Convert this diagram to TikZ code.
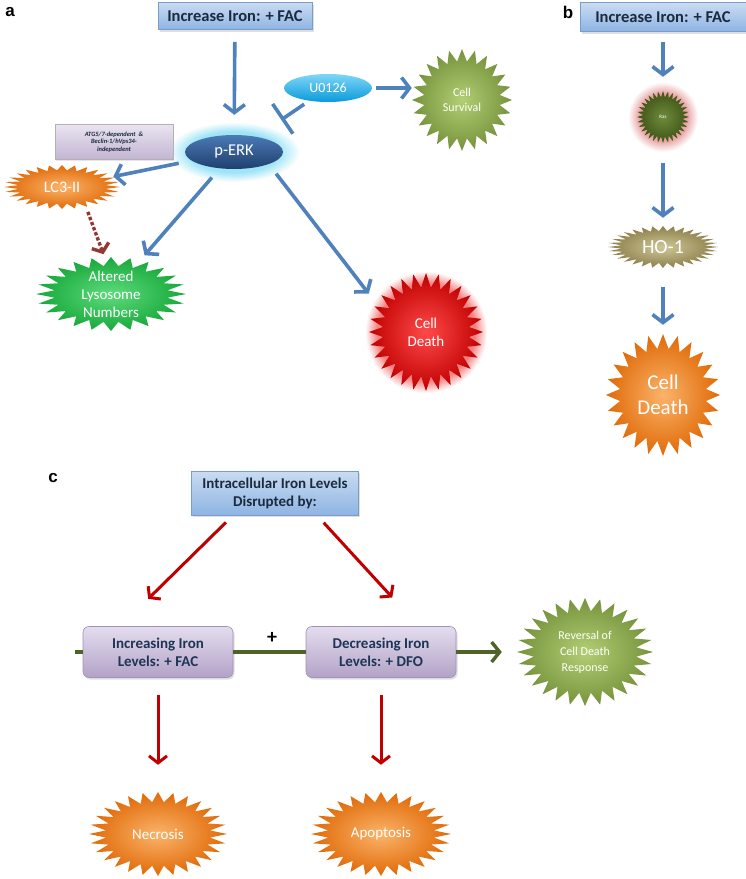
\documentclass[tikz,border=0pt]{standalone}
\usepackage{fontspec}
\setmainfont{Carlito}
\newfontfamily\panelfont{Liberation Sans}
\usetikzlibrary{arrows.meta, shapes.geometric, shadows, calc}

\definecolor{arrblue}{HTML}{4F81BD}
\definecolor{arrred}{HTML}{C00000}
\definecolor{dotred}{HTML}{953735}
\definecolor{linegreen}{HTML}{4F6228}
\definecolor{boxtop}{HTML}{C9DCF2}
\definecolor{boxbot}{HTML}{8EB4E3}
\definecolor{boxedge}{HTML}{7A9CC8}
\definecolor{liltop}{HTML}{E4DDEE}
\definecolor{lilbot}{HTML}{B3A2C7}
\definecolor{liledge}{HTML}{A091B8}
\definecolor{navytext}{HTML}{1F3556}
\definecolor{boxtext}{HTML}{1B2A3D}
\definecolor{erktop}{HTML}{4A7AB5}
\definecolor{erkbot}{HTML}{1F3F6E}
\definecolor{utop}{HTML}{7FD6F7}
\definecolor{ubot}{HTML}{0A9ADA}
\definecolor{orangein}{HTML}{FBB36A}
\definecolor{orangeout}{HTML}{E06A08}
\definecolor{greenin}{HTML}{5EDB7C}
\definecolor{greenout}{HTML}{17A83A}
\definecolor{olivein}{HTML}{B3CF74}
\definecolor{oliveout}{HTML}{76923C}
\definecolor{redin}{HTML}{FF4A4A}
\definecolor{redout}{HTML}{C00000}
\definecolor{tanin}{HTML}{CFC698}
\definecolor{tanout}{HTML}{8C7F4A}
\definecolor{rasin}{HTML}{6F8B3B}
\definecolor{rasout}{HTML}{3D5316}
\definecolor{pinkglow}{HTML}{E8A3A3}
\definecolor{cyanglow}{HTML}{9FE4F7}
\definecolor{redglow}{HTML}{F58080}

\pgfdeclareradialshading{rasglow}{\pgfpoint{0bp}{0bp}}{color(0bp)=(pinkglow); color(17bp)=(pinkglow);
  color(25bp)=(white); color(50bp)=(white)}
\pgfdeclareradialshading{erkglow}{\pgfpoint{0bp}{0bp}}{color(0bp)=(cyanglow); color(17bp)=(cyanglow);
  color(25bp)=(white); color(50bp)=(white)}
\pgfdeclareradialshading{deathglow}{\pgfpoint{0bp}{0bp}}{color(0bp)=(redglow); color(20bp)=(redglow);
  color(25bp)=(white); color(50bp)=(white)}

% star with many spikes, drawn as a shaded plot, with a named node on top
\newcommand{\spiky}[8]{%
  \shade[#6, shift={(#2)}] plot[domain=0:360, samples=#5, variable=\ang]
    ({#3*(1-0.24*mod(round(\ang/(360/(#5-1))),2))*cos(\ang)},
     {#4*(1-0.24*mod(round(\ang/(360/(#5-1))),2))*sin(\ang)}) -- cycle;
  \node[burstlabel, minimum width=2*#3pt, minimum height=2*#4pt, font=#7] (#1) at (#2) {#8};
}

\tikzset{
  panlabel/.style={font=\panelfont\bfseries\fontsize{17}{17}\selectfont, inner sep=0pt},
  bluebox/.style={draw=boxedge, line width=0.6pt, top color=boxtop, bottom color=boxbot,
    text=boxtext, font=\bfseries\fontsize{16.5}{18}\selectfont, align=center,
    drop shadow={shadow xshift=1.5pt, shadow yshift=-2pt, opacity=0.25}},
  purplebox/.style={draw=liledge, line width=0.6pt, rounded corners=6pt, top color=liltop,
    bottom color=lilbot, text=navytext, font=\bfseries\fontsize{15}{18}\selectfont, align=center,
    minimum width=150pt, minimum height=51pt,
    drop shadow={shadow xshift=1.5pt, shadow yshift=-2pt, opacity=0.25}},
  burstlabel/.style={ellipse, inner sep=0pt, text=white, align=center},
  bluearr/.style={draw=arrblue, line width=3.6pt, -{Straight Barb[length=8pt, width=21pt]}},
  redarr/.style={draw=arrred, line width=3pt, -{Straight Barb[length=7pt, width=18pt]}},
  dotarr/.style={draw=dotred, line width=3.4pt, dotted, -{Straight Barb[length=7pt, width=18pt]}},
  inhib/.style={draw=arrblue, line width=3.6pt, -{Bar[width=36pt]}},
  greenline/.style={draw=linegreen, line width=3.4pt},
  orangeburst/.style={inner color=orangein, outer color=orangeout},
  greenburst/.style={inner color=greenin, outer color=greenout},
  oliveburst/.style={inner color=olivein, outer color=oliveout},
  redburst/.style={inner color=redin, outer color=redout},
  tanburst/.style={inner color=tanin, outer color=tanout},
  rasburst/.style={inner color=rasin, outer color=rasout},
}

\begin{document}
\begin{tikzpicture}[x=1pt, y=-1pt]

    \fill[white] (0,0) rectangle (746,879);
    \useasboundingbox (0,0) rectangle (746,879);

    % Panel a
    \node[panlabel] (la) at (10,12) {a};
    \node[bluebox, minimum width=154pt, minimum height=27pt] (ironA) at (235,16) {Increase Iron: + FAC};

    \shade[shading=erkglow] (234,152) ellipse [x radius=66, y radius=30];
    \node[ellipse, minimum width=98pt, minimum height=34pt, inner sep=0pt, top color=erktop,
      bottom color=erkbot, text=white, font=\fontsize{16.5}{18}\selectfont] (perk) at (234,152) {p-ERK};
    \node[ellipse, minimum width=88pt, minimum height=28pt, inner sep=0pt, top color=utop,
      bottom color=ubot, text=white, font=\fontsize{14}{16}\selectfont] (uzero) at (328,88) {U0126};

    \node[draw=gray!60, line width=0.5pt, top color=liltop!80!white, bottom color=lilbot!80!white,
      minimum width=118pt, minimum height=35pt, align=center, text=boxtext,
      font=\bfseries\itshape\fontsize{6.5}{7.5}\selectfont,
      drop shadow={shadow xshift=1pt, shadow yshift=-1.5pt, opacity=0.2}] (atg) at (114,142)
      {ATG5/7-dependent \ \&\\Beclin-1/hVps34-\\independent};

    \spiky{survival}{462,100}{50}{51}{49}{oliveburst}{\fontsize{12}{15}\selectfont}{Cell\\Survival}
    \spiky{lc3}{62,187}{58}{22}{57}{orangeburst}{\fontsize{16}{18}\selectfont}{LC3-II}
    \spiky{lyso}{111,294}{75}{37}{49}{greenburst}{\fontsize{15}{18}\selectfont}{Altered\\Lysosome\\Numbers}
    \shade[shading=deathglow] (426,332) circle (61);
    \spiky{death}{426,332}{57}{59}{57}{redburst}{\fontsize{15}{18}\selectfont}{Cell\\Death}

    \draw[bluearr, shorten <=12pt, shorten >=20pt] (ironA) -- (perk);
    \draw[bluearr, shorten <=4pt] (uzero.east) -- (uzero.east -| survival.west);
    \draw[inhib, shorten <=6pt, shorten >=30pt] (uzero) -- (perk);
    \draw[bluearr, shorten <=13pt] (perk) -- (lc3);
    \draw[dotarr, shorten <=5pt, shorten >=3pt] (lc3.-40) -- (lyso.100);
    \draw[bluearr, shorten <=12pt, shorten >=6pt] (perk) -- (lyso);
    \draw[bluearr, shorten <=12pt, shorten >=12pt] (perk.south east) -- (death.150);

    % Panel b
    \node[panlabel] (lb) at (568,12) {b};
    \node[bluebox, minimum width=166pt, minimum height=29pt] (ironB) at (663,17) {Increase Iron: + FAC};

    \shade[shading=rasglow] (663,117) circle (35);
    \spiky{ras}{663,117}{26}{26}{65}{rasburst}{\fontsize{5}{6}\selectfont}{Ras}
    \spiky{hoone}{663,247}{55}{21}{65}{tanburst}{\fontsize{20}{22}\selectfont}{HO-1}
    \spiky{deathB}{663,395}{57}{61}{49}{orangeburst}{\fontsize{21}{25}\selectfont}{Cell\\Death}

    \draw[bluearr, shorten <=10pt, shorten >=14pt] (ironB) -- (ras);
    \draw[bluearr, shorten <=20pt, shorten >=8pt] (ras) -- (hoone);
    \draw[bluearr, shorten <=19pt, shorten >=9pt] (hoone) -- (deathB);

    % Panel c
    \node[panlabel] (lc) at (53,478) {c};
    \node[bluebox, minimum width=167pt, minimum height=44pt, font=\bfseries\fontsize{15}{18}\selectfont]
      (ironC) at (275,493) {Intracellular Iron Levels\\Disrupted by:};

    \node[purplebox] (incr) at (158,652) {Increasing Iron\\Levels: + FAC};
    \node[purplebox] (decr) at (381,652) {Decreasing Iron\\Levels: + DFO};

    \spiky{rev}{585,652}{68}{54}{57}{oliveburst}{\fontsize{12}{16}\selectfont}{Reversal of\\Cell Death\\Response}
    \spiky{necro}{158,834}{69}{42}{57}{orangeburst}{\fontsize{15}{17}\selectfont}{Necrosis}
    \spiky{apop}{381,834}{70}{42}{57}{orangeburst}{\fontsize{15}{17}\selectfont}{Apoptosis}

    \coordinate (gstart) at (75,652);
    \draw[greenline] (gstart) -- (incr.west);
    \draw[greenline] (incr.east) -- (decr.west);
    \draw[greenline, -{Straight Barb[length=8pt, width=20pt]}, shorten >=15pt] (decr.east) -- (rev);
    \node[font=\bfseries\fontsize{20}{20}\selectfont] (plus) at (272,638) {+};

    \draw[redarr, shorten <=10pt, shorten >=39pt] ($(ironC.south)!0.5!(ironC.south west)$)
      -- ($(incr.north)!0.5!(incr.north west)$);
    \draw[redarr, shorten <=10pt, shorten >=39pt] ($(ironC.south)!0.5!(ironC.south east)$)
      -- ($(decr.north)!0.5!(decr.north east)$);
    \draw[redarr, shorten <=17pt, shorten >=27pt] (incr) -- (necro);
    \draw[redarr, shorten <=17pt, shorten >=27pt] (decr) -- (apop);

\end{tikzpicture}
\end{document}
